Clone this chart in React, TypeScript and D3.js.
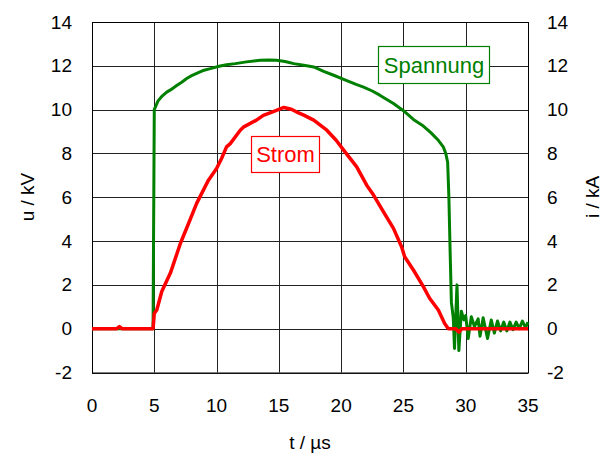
import React from "react";
import * as d3 from "d3";

const tTicks = [0, 5, 10, 15, 20, 25, 30, 35];
const yTicks = [-2, 0, 2, 4, 6, 8, 10, 12, 14];

const uTime = [0, 4.9, 4.95, 5.0, 5.3, 5.6, 6.0, 6.3, 6.8, 7.2, 7.6, 8.0, 8.4, 9.0, 9.5, 10.2, 10.8, 11.5, 12.4, 13.5, 14.2, 14.8, 15.5, 16.2, 17.0, 17.8, 18.6, 19.4, 20.4, 21.2, 21.8, 22.5, 23.1, 23.7, 24.2, 25.0, 25.8, 26.6, 27.2, 27.8, 28.2, 28.4, 28.55, 28.65, 28.75, 28.85, 29.0, 29.1, 29.3, 29.45, 29.65, 29.85, 30.0, 30.2, 30.45, 30.7, 31.0, 31.15, 31.4, 31.75, 32.05, 32.3, 32.55, 32.8, 33.05, 33.3, 33.55, 33.8, 34.05, 34.3, 34.55, 34.8, 35];
const uValues = [0, 0, 5, 10.0, 10.4, 10.6, 10.8, 10.9, 11.1, 11.25, 11.42, 11.55, 11.65, 11.8, 11.87, 11.98, 12.05, 12.1, 12.18, 12.25, 12.27, 12.25, 12.2, 12.1, 12.03, 11.95, 11.75, 11.57, 11.34, 11.15, 11.03, 10.85, 10.66, 10.45, 10.28, 9.95, 9.55, 9.25, 8.95, 8.6, 8.3, 8.0, 7.6, 6.0, 3.5, 1.2, 0.5, -0.9, 2.0, -1.0, 0.8, 0.4, 0.6, -0.45, 0.55, 0.1, 0.45, -0.35, 0.5, -0.45, 0.4, -0.2, 0.35, -0.1, 0.3, -0.1, 0.3, -0.05, 0.3, 0.0, 0.35, 0.05, 0.3];

const iTime = [0, 2.0, 2.2, 2.4, 4.9, 5.0, 5.2, 5.6, 6.3, 7.1, 7.75, 8.4, 9.35, 10.0, 10.4, 10.8, 11.1, 11.9, 12.15, 13.2, 13.75, 14.5, 15.4, 16.0, 16.4, 17.0, 17.8, 18.85, 19.6, 20.2, 21.25, 22.05, 22.6, 23.4, 24.2, 24.85, 25.1, 25.8, 26.6, 27.1, 27.8, 28.3, 28.6, 29.2, 29.45, 29.7, 35];
const iValues = [0, 0, 0.1, 0, 0, 0.7, 0.85, 1.7, 2.55, 3.9, 4.8, 5.72, 6.78, 7.31, 7.77, 8.3, 8.45, 9.06, 9.2, 9.52, 9.74, 9.9, 10.1, 10.02, 9.9, 9.75, 9.52, 9.06, 8.6, 8.15, 7.39, 6.55, 6.1, 5.33, 4.58, 3.74, 3.28, 2.68, 1.92, 1.39, 0.85, 0.25, 0, 0, -0.15, 0, 0];

const W = 603;
const H = 456;
const left = 92;
const right = 528;
const top = 22;
const bottom = 372.5;
const FONT = "'Liberation Sans', Arial, sans-serif";

export default function App() {
  const x = d3.scaleLinear().domain([0, 35]).range([left, right]);
  const y = d3.scaleLinear().domain([-2, 14]).range([bottom, top]);
  const line = d3
    .line<[number, number]>()
    .x((d) => x(d[0]))
    .y((d) => y(d[1]));
  const uPts: [number, number][] = uTime.map((t, k) => [t, uValues[k]]);
  const iPts: [number, number][] = iTime.map((t, k) => [t, iValues[k]]);

  return (
    <svg
      width={W}
      height={H}
      style={{ position: "absolute", left: 0, top: 0, background: "#fff" }}
      fontFamily={FONT}
    >
      <rect x={0} y={0} width={W} height={H} fill="#fff" />
      {tTicks.map((t) => (
        <line key={"gx" + t} x1={Math.round(x(t)) + 0.5} x2={Math.round(x(t)) + 0.5} y1={top} y2={bottom} stroke="#222" strokeWidth={1} />
      ))}
      {yTicks.map((v) => (
        <line key={"gy" + v} x1={left} x2={right} y1={Math.round(y(v)) + 0.5} y2={Math.round(y(v)) + 0.5} stroke="#222" strokeWidth={1} />
      ))}
      <rect x={left + 0.5} y={top + 0.5} width={right - left} height={bottom - top} fill="none" stroke="#000" strokeWidth={1} />

      <path d={line(uPts) || ""} fill="none" stroke="#008000" strokeWidth={3} strokeLinejoin="round" />
      <path d={line(iPts) || ""} fill="none" stroke="#ff0000" strokeWidth={3.5} strokeLinejoin="round" />

      {yTicks.map((v) => (
        <text key={"yl" + v} x={72} y={y(v)} textAnchor="end" dominantBaseline="central" fontSize={19} fill="#000">
          {v}
        </text>
      ))}
      {yTicks.map((v) => (
        <text key={"yr" + v} x={547} y={y(v)} textAnchor="start" dominantBaseline="central" fontSize={19} fill="#000">
          {v}
        </text>
      ))}
      {tTicks.map((t) => (
        <text key={"xl" + t} x={x(t)} y={405} textAnchor="middle" dominantBaseline="central" fontSize={19} fill="#000">
          {t}
        </text>
      ))}
      <text x={310} y={449} textAnchor="middle" fontSize={19} fill="#000">
        t / µs
      </text>
      <text transform="translate(27,197) rotate(-90)" textAnchor="middle" dominantBaseline="central" fontSize={19} fill="#000">
        u / kV
      </text>
      <text transform="translate(592,197) rotate(-90)" textAnchor="middle" dominantBaseline="central" fontSize={19} fill="#000">
        i / kA
      </text>

      <rect x={378.5} y={46.5} width={111} height={37} fill="#fff" stroke="#008000" strokeWidth={1.2} />
      <text x={434} y={65} textAnchor="middle" dominantBaseline="central" fontSize={22} fill="#008000">
        Spannung
      </text>
      <rect x={251.5} y={136.5} width={68} height={36} fill="#fff" stroke="#ff0000" strokeWidth={1.2} />
      <text x={285.5} y={154.5} textAnchor="middle" dominantBaseline="central" fontSize={22} fill="#ff0000">
        Strom
      </text>
    </svg>
  );
}
